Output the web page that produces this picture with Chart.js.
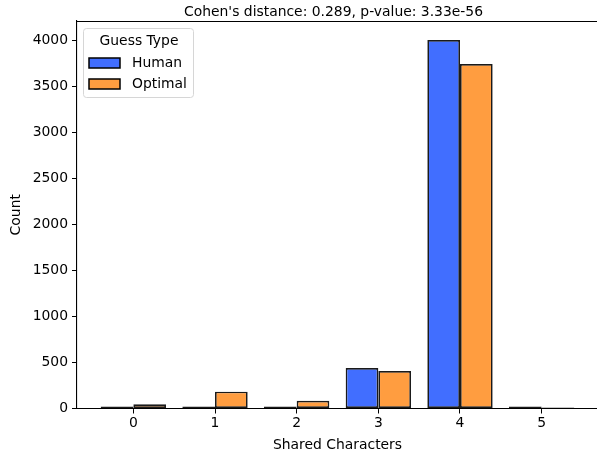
<!DOCTYPE html>
<html>
<head>
<meta charset="utf-8">
<script src="https://cdn.jsdelivr.net/npm/chart.js@4.4.1/dist/chart.umd.min.js"></script>
<style>
  html, body { margin: 0; padding: 0; background: #fff; overflow: hidden; }
  #wrap { width: 597px; height: 457px; overflow: hidden; }
</style>
</head>
<body>
<div id="wrap"><canvas id="chart" width="598" height="457"></canvas></div>
<script>
// data
const sharedChars = [0, 1, 2, 3, 4, 5];
const humanCounts = [8, 8, 20, 440, 4005, 8];
const optimalCounts = [46, 183, 85, 408, 3745, 2];
const yTicks = [0, 500, 1000, 1500, 2000, 2500, 3000, 3500, 4000];
const titleText = "Cohen's distance: 0.289, p-value: 3.33e-56";

const FONT = 'DejaVu Sans';
const FS = 13.9;

const toPoints = vals => sharedChars.map((x, i) => ({ x: x, y: vals[i] }));

// top spine, title and the boxed legend inside the plot
const extras = {
    id: 'extras',
    afterDraw(chart) {
        const ctx = chart.ctx;
        const a = chart.chartArea;
        ctx.save();
        ctx.strokeStyle = '#000';
        ctx.lineWidth = 1.1;
        ctx.beginPath();
        ctx.moveTo(a.left, a.top + 0.5);
        ctx.lineTo(a.right, a.top + 0.5);
        ctx.stroke();

        ctx.fillStyle = '#000';
        ctx.font = FS + 'px ' + FONT;
        ctx.textAlign = 'center';
        ctx.textBaseline = 'middle';
        ctx.fillText(titleText, (a.left + a.right) / 2 - 4, 12);

        // legend frame
        const lx = 83.5, ly = 28.5, lw = 110, lh = 69, r = 3;
        ctx.fillStyle = 'rgba(255,255,255,0.8)';
        ctx.strokeStyle = '#d6d6d6';
        ctx.lineWidth = 1;
        ctx.beginPath();
        ctx.moveTo(lx + r, ly);
        ctx.arcTo(lx + lw, ly, lx + lw, ly + lh, r);
        ctx.arcTo(lx + lw, ly + lh, lx, ly + lh, r);
        ctx.arcTo(lx, ly + lh, lx, ly, r);
        ctx.arcTo(lx, ly, lx + lw, ly, r);
        ctx.closePath();
        ctx.fill();
        ctx.stroke();

        ctx.fillStyle = '#000';
        ctx.textAlign = 'center';
        ctx.fillText('Guess Type', 139, 41);

        chart.data.datasets.forEach((ds, i) => {
            const py = 58 + i * 21;
            ctx.fillStyle = ds.backgroundColor;
            ctx.fillRect(89, py, 31, 10);
            ctx.strokeStyle = '#000';
            ctx.lineWidth = 1.5;
            ctx.strokeRect(89, py, 31, 10);
            ctx.fillStyle = '#000';
            ctx.textAlign = 'left';
            ctx.fillText(ds.label, 132, py + 5);
        });
        ctx.restore();
    }
};

new Chart(document.getElementById('chart'), {
    type: 'bar',
    data: {
        datasets: [{
            label: 'Human',
            data: toPoints(humanCounts),
            backgroundColor: '#416eff',
            borderColor: '#1a1a1a',
            borderWidth: 1.7,
            borderSkipped: false,
            minBarLength: 2
        }, {
            label: 'Optimal',
            data: toPoints(optimalCounts),
            backgroundColor: '#ff9d40',
            borderColor: '#1a1a1a',
            borderWidth: 1.7,
            borderSkipped: false,
            minBarLength: 1
        }]
    },
    options: {
        responsive: false,
        animation: false,
        barPercentage: 1.0,
        categoryPercentage: 0.8,
        layout: { padding: { top: 21, left: 0, right: 0, bottom: 0 } },
        plugins: {
            legend: { display: false },
            tooltip: { enabled: false }
        },
        scales: {
            x: {
                type: 'linear',
                min: -0.69,
                max: 5.69,
                offset: false,
                afterFit: s => { s.height = 48.5; },
                afterBuildTicks: s => { s.ticks = sharedChars.map(v => ({ value: v })); },
                ticks: { color: '#000', font: { family: FONT, size: FS }, padding: 2, callback: v => String(v) },
                grid: { offset: false, drawOnChartArea: false, tickLength: 5, tickColor: '#000', tickWidth: 1 },
                border: { color: '#000', width: 1.1 },
                title: { display: true, text: 'Shared Characters', color: '#000', font: { family: FONT, size: FS }, padding: { top: 0, bottom: 3 } }
            },
            y: {
                min: 0,
                max: 4212,
                afterFit: s => { s.width = 77; },
                afterBuildTicks: s => { s.ticks = yTicks.map(v => ({ value: v })); },
                ticks: { color: '#000', font: { family: FONT, size: FS }, padding: 4, callback: v => String(v) },
                grid: { drawOnChartArea: false, tickLength: 5, tickColor: '#000', tickWidth: 1 },
                border: { color: '#000', width: 1.1 },
                title: { display: true, text: 'Count', color: '#000', font: { family: FONT, size: FS }, padding: { top: 8, bottom: 0 } }
            }
        }
    },
    plugins: [extras]
});
</script>
</body>
</html>
